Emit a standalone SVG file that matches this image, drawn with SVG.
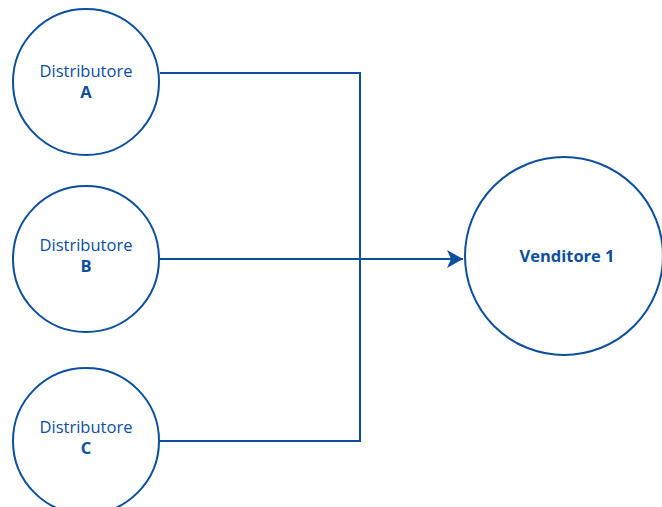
<svg xmlns="http://www.w3.org/2000/svg" width="662" height="507" viewBox="0 0 662 507">
  <style>
    .node { fill: #ffffff; stroke: #0c4f9c; stroke-width: 2; }
    .wire { fill: none; stroke: #0c4f9c; stroke-width: 2; }
    .lbl { font-family: "Open Sans", Lato, sans-serif; font-size: 16.5px; fill: #0c4f9c; text-anchor: middle; }
    .bold { font-weight: bold; }
  </style>
  <defs>
    <marker id="arrow" markerWidth="16" markerHeight="18" refX="16" refY="9" orient="auto" markerUnits="userSpaceOnUse">
      <path d="M0,0 L16,9 L0,18 L4,9 Z" fill="#0c4f9c"/>
    </marker>
  </defs>

  <g id="connectors">
    <path class="wire" d="M160,73 H360 V441 H160"/>
    <path class="wire" d="M160,259 H463" marker-end="url(#arrow)"/>
  </g>

  <g id="distributore-a">
    <circle class="node" cx="86" cy="82" r="73"/>
    <text class="lbl" x="86" y="77">Distributore</text>
    <text class="lbl bold" x="86" y="98">A</text>
  </g>

  <g id="distributore-b">
    <circle class="node" cx="86" cy="259" r="73"/>
    <text class="lbl" x="86" y="251">Distributore</text>
    <text class="lbl bold" x="86" y="272">B</text>
  </g>

  <g id="distributore-c">
    <circle class="node" cx="86" cy="441" r="73"/>
    <text class="lbl" x="86" y="433">Distributore</text>
    <text class="lbl bold" x="86" y="454">C</text>
  </g>

  <g id="venditore-1">
    <circle class="node" cx="564" cy="256" r="99"/>
    <text class="lbl bold" x="567" y="262" font-size="17.5">Venditore 1</text>
  </g>
</svg>
